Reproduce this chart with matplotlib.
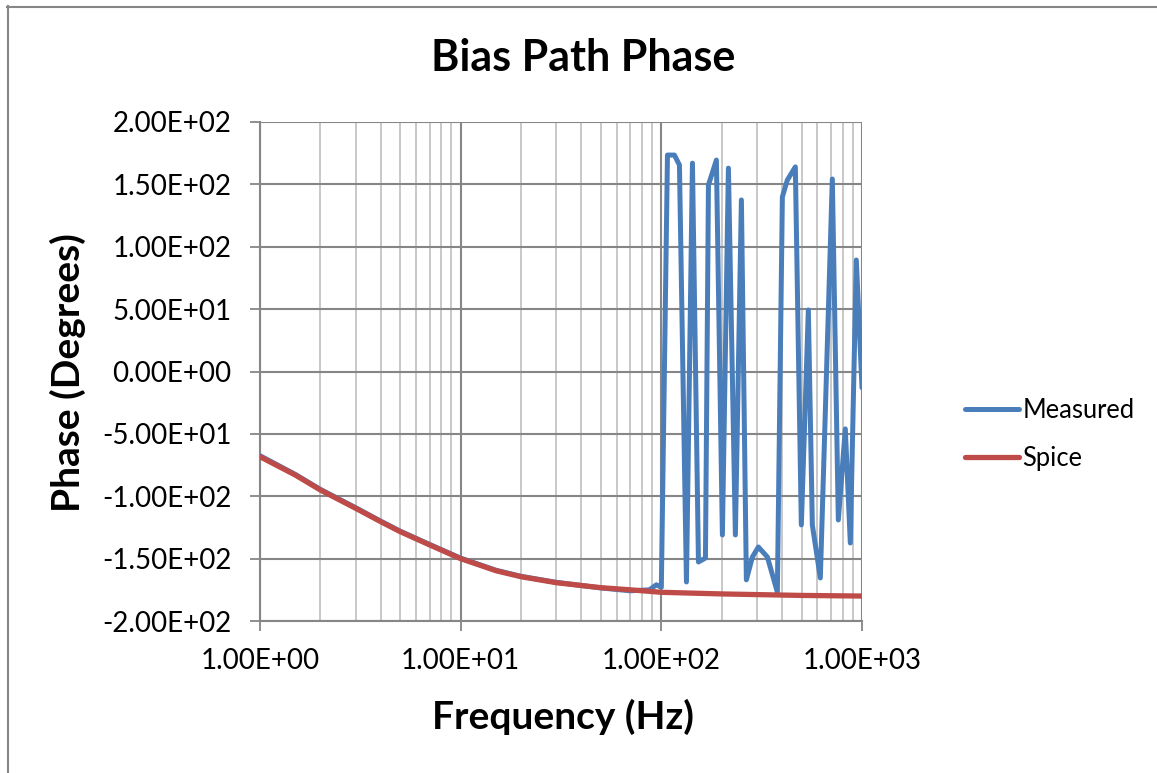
import matplotlib
matplotlib.use("Agg")
import matplotlib.pyplot as plt
from matplotlib.lines import Line2D
from matplotlib.ticker import FixedLocator, FuncFormatter, LogLocator, NullFormatter

plt.rcParams['font.family'] = ['Lato', 'DejaVu Sans']

# Spice simulation (frequency in Hz, phase in degrees)
spice_freq = [1, 1.5, 2, 3, 4, 5, 7, 10, 15, 20, 30, 50, 70, 100, 200, 500, 1000]
spice_phase = [-68.3, -83.0, -95.0, -109.7, -120.4, -128.4, -139.0, -150.0,
               -159.7, -164.5, -169.3, -173.3, -175.0, -177.0, -178.3, -179.5, -180.0]

# Measured data
meas_freq = [1, 1.5, 2, 3, 4, 5, 7, 10, 15, 20, 30, 50, 70,
             87.2, 94.5, 100, 107.3, 116.2, 123.1, 133.4, 142.9, 153.1, 165.9,
             171.7, 188.1, 201.5, 215.9, 233.9, 250.6, 265.3, 284.3, 304.5,
             337.6, 378.6, 401, 424.6, 465.4, 498.5, 540.3, 565.6, 619.9,
             711.4, 762.1, 825.7, 874.5, 936.7, 1000]
meas_phase = [-67.5, -82.5, -94.5, -109.2, -120.0, -128.0, -138.6, -149.6,
              -159.3, -164.2, -169.0, -173.5, -175.8,
              -175.0, -171.0, -173.0, 173.5, 173.5, 165.5, -168.7, 167.0, -152.7, -149.5,
              149.5, 169.5, -131.0, 163.0, -131.0, 137.5, -167.0, -148.7, -140.7,
              -148.7, -176.8, 140.0, 153.5, 164.0, -123.0, 49.3, -123.0, -165.5,
              154.3, -119.0, -46.0, -137.5, 89.4, -13.0]

y_ticks = [-200, -150, -100, -50, 0, 50, 100, 150, 200]
x_ticks = [1, 10, 100, 1000]

W, H = 1157, 773
fig = plt.figure(figsize=(W / 100, H / 100), dpi=100)
ax = fig.add_axes([260 / W, 1 - 621 / H, (862 - 260) / W, (621 - 122) / H])

blue = '#4A7EBB'
red = '#BE4B48'
ax.plot(meas_freq, meas_phase, color=blue, lw=3.6, solid_joinstyle='round',
        solid_capstyle='round', label='Measured', zorder=3)
ax.plot(spice_freq, spice_phase, color=red, lw=3.8, solid_joinstyle='round',
        solid_capstyle='round', label='Spice', zorder=4)

ax.set_xscale('log')
ax.set_xlim(1, 1000)
ax.set_ylim(-200, 200)
ax.xaxis.set_major_locator(FixedLocator(x_ticks))
ax.xaxis.set_minor_locator(LogLocator(base=10, subs=range(2, 10)))
ax.xaxis.set_minor_formatter(NullFormatter())
ax.xaxis.set_major_formatter(FuncFormatter(lambda v, p: f"{v:.2E}"))
ax.yaxis.set_major_locator(FixedLocator(y_ticks))
ax.yaxis.set_major_formatter(FuncFormatter(lambda v, p: f"{v:.2E}"))

ax.grid(True, which='major', color='#868686', lw=1.5)
ax.grid(True, which='minor', axis='x', color='#c4c4c4', lw=1.3)
ax.set_axisbelow(True)
for s in ['top', 'right']:
    ax.spines[s].set_visible(False)
for s in ['left', 'bottom']:
    ax.spines[s].set_color('#868686')
    ax.spines[s].set_linewidth(1.5)

ax.tick_params(axis='both', which='major', direction='out', length=7.5, width=1.3,
               color='#868686', labelsize=20)
ax.tick_params(axis='y', which='major', pad=13)
ax.tick_params(axis='x', which='major', pad=12)
ax.tick_params(axis='x', which='minor', length=0)

fig.text(583.5 / W, 1 - 58 / H, 'Bias Path Phase', fontsize=31, fontweight='bold',
         ha='center', va='center')
fig.text(562.5 / W, 1 - 717 / H, 'Frequency (Hz)', fontsize=28, fontweight='bold',
         ha='center', va='center')
fig.text(68 / W, 1 - 373 / H, 'Phase (Degrees)', fontsize=28, fontweight='bold',
         ha='center', va='center', rotation=90)

handles = [Line2D([], [], color=blue, lw=3.6, solid_capstyle='round'),
           Line2D([], [], color=red, lw=3.8, solid_capstyle='round')]
fig.legend(handles, ['Measured', 'Spice'], loc='center left',
           bbox_to_anchor=(942 / W, 1 - 434 / H), frameon=False, fontsize=18.4,
           handlelength=2.1, handletextpad=0.15, labelspacing=0.9)

# outer chart border (top and left visible)
fig.add_artist(Line2D([7 / W, 1.0], [1 - 6.5 / H, 1 - 6.5 / H], color='#868686', lw=1.5))
fig.add_artist(Line2D([7.5 / W, 7.5 / W], [0, 1 - 6 / H], color='#868686', lw=1.5))

fig.savefig('out.png', dpi=100)
